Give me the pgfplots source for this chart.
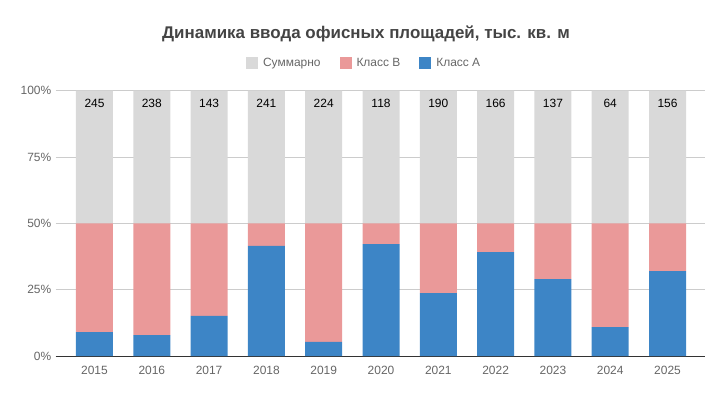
\documentclass[border=0pt]{standalone}
\usepackage{fontspec}
\setmainfont{Liberation Sans}
\usepackage{pgfplots}
\pgfplotsset{compat=1.18}
\definecolor{cgrey}{HTML}{D9D9D9}
\definecolor{cpink}{HTML}{EA9999}
\definecolor{cblue}{HTML}{3D85C6}
\definecolor{ctxt}{HTML}{666666}
\definecolor{ctitle}{HTML}{444444}
\begin{document}
\begin{tikzpicture}[x=1bp,y=1bp]
\useasboundingbox (0,0) rectangle (725,397);
\node[font=\bfseries\fontsize{17}{20}\selectfont, text=ctitle] at (366,363.5) {Динамика ввода офисных площадей, тыс. кв. м};
\begin{axis}[
  at={(55.7bp,41bp)}, anchor=south west,
  scale only axis, width=649.3bp, height=265.3bp,
  ybar stacked, bar width=37bp,
  xmin=-0.677, xmax=10.654, ymin=0, ymax=100,
  xtick={0,1,2,3,4,5,6,7,8,9,10},
  xticklabels={2015,2016,2017,2018,2019,2020,2021,2022,2023,2024,2025},
  ytick={25,50,75,100},
  yticklabels={25\%,50\%,75\%,100\%},
  extra y ticks={0}, extra y tick labels={0\%},
  extra y tick style={grid style={draw=black!80, line width=1bp}},
  ymajorgrids,
  grid style={draw=black!20, line width=0.8bp},
  axis line style={draw=none},
  major tick length=0,
  tick label style={font=\fontsize{12}{14}\selectfont, text=ctxt},
  xticklabel style={yshift=-7bp},
  yticklabel style={xshift=-1bp},
  legend style={at={(0.475,1.104)}, anchor=center, draw=none, fill=none,
    font=\fontsize{12}{14}\selectfont, text=ctxt,
    /tikz/every even column/.style={column sep=17bp}},
  legend columns=3,
  legend image code/.code={\fill[#1, draw=none] (0bp,-6bp) rectangle (12bp,6bp); \path (15bp,0bp);},
]
\addlegendimage{fill=cgrey, draw=none}
\addlegendentry{Суммарно}
\addlegendimage{fill=cpink, draw=none}
\addlegendentry{Класс B}
\addlegendimage{fill=cblue, draw=none}
\addlegendentry{Класс А}
\addplot[fill=cblue, draw=none, forget plot] coordinates
 {(0,9.0) (1,7.9) (2,15.1) (3,41.5) (4,5.3) (5,42.2) (6,23.7) (7,39.2) (8,29.0) (9,10.9) (10,32.0)};
\addplot[fill=cpink, draw=none, forget plot] coordinates
 {(0,41.0) (1,42.1) (2,34.9) (3,8.5) (4,44.7) (5,7.8) (6,26.3) (7,10.8) (8,21.0) (9,39.1) (10,18.0)};
\addplot[fill=cgrey, draw=none, forget plot, point meta=explicit symbolic,
  nodes near coords,
  every node near coord/.append style={font=\fontsize{12}{14}\selectfont, text=black, anchor=center, yshift=54bp}]
 coordinates
 {(0,50)[245] (1,50)[238] (2,50)[143] (3,50)[241] (4,50)[224] (5,50)[118] (6,50)[190] (7,50)[166] (8,50)[137] (9,50)[64] (10,50)[156]};
\end{axis}
\end{tikzpicture}
\end{document}
